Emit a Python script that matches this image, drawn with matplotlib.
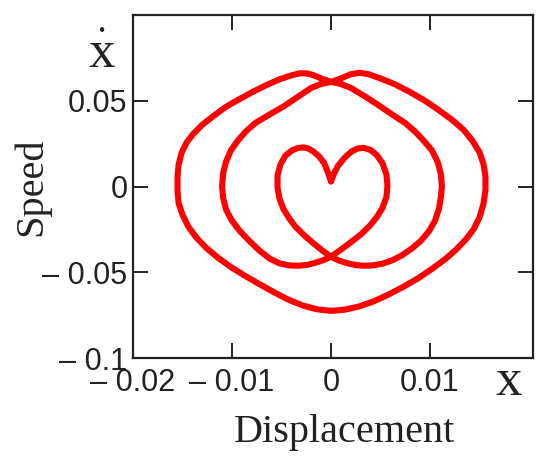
import matplotlib
matplotlib.use("Agg")
import matplotlib.pyplot as plt

# Phase-plane trajectory (displacement, speed)
displacement = [
    # heart, left half (from the notch down to the lower crossing)
    0.0000, -0.0003, -0.0007, -0.0012, -0.0018, -0.0023, -0.0028, -0.0033, -0.0039, -0.0046,
    -0.0051, -0.0054, -0.0054, -0.0052, -0.0048, -0.0042, -0.0036, -0.0027, -0.0018, -0.0009, 0.0000,
    # middle loop, right side going up
    0.0008, 0.0017, 0.0025, 0.0033, 0.0042, 0.0052, 0.0062, 0.0072, 0.0082, 0.0091, 0.0099,
    0.0105, 0.0109, 0.0111, 0.0112, 0.0111, 0.0108, 0.0102, 0.0094, 0.0085, 0.0075, 0.0063,
    0.0047, 0.0033, 0.0020, 0.0010, 0.0000,
    # outer loop, left side going down
    -0.0010, -0.0018, -0.0025, -0.0032, -0.0040, -0.0052, -0.0065, -0.0078, -0.0093, -0.0106,
    -0.0119, -0.0130, -0.0139, -0.0146, -0.0151, -0.0154, -0.0155, -0.0155, -0.0154, -0.0150,
    -0.0144, -0.0136, -0.0126, -0.0114, -0.0101, -0.0087, -0.0073, -0.0058, -0.0043, -0.0028,
    -0.0014, 0.0000,
    # outer loop, right side going up
    0.0014, 0.0028, 0.0043, 0.0058, 0.0073, 0.0088, 0.0102, 0.0115, 0.0126, 0.0136, 0.0144,
    0.0150, 0.0154, 0.0156, 0.0156, 0.0154, 0.0150, 0.0143, 0.0134, 0.0122, 0.0109, 0.0095,
    0.0080, 0.0065, 0.0050, 0.0038, 0.0029, 0.0020, 0.0010, 0.0000,
    # middle loop, left side going down
    -0.0010, -0.0020, -0.0033, -0.0047, -0.0062, -0.0076, -0.0086, -0.0094, -0.0101, -0.0106,
    -0.0109, -0.0110, -0.0109, -0.0106, -0.0100, -0.0092, -0.0082, -0.0072, -0.0062, -0.0052,
    -0.0042, -0.0033, -0.0024, -0.0016, -0.0008, 0.0000,
    # heart, right half (from the lower crossing up to the notch)
    0.0010, 0.0020, 0.0030, 0.0039, 0.0046, 0.0052, 0.0056, 0.0057, 0.0056, 0.0052, 0.0046,
    0.0040, 0.0033, 0.0027, 0.0021, 0.0014, 0.0007, 0.0003, 0.0000,
]
speed = [
    0.0030, 0.0080, 0.0138, 0.0175, 0.0205, 0.0222, 0.0228, 0.0225, 0.0212, 0.0180,
    0.0130, 0.0065, -0.0005, -0.0072, -0.0132, -0.0187, -0.0234, -0.0285, -0.0330, -0.0372, -0.0409,
    -0.0432, -0.0448, -0.0458, -0.0462, -0.0460, -0.0450, -0.0430, -0.0400, -0.0360, -0.0315, -0.0260,
    -0.0200, -0.0130, -0.0060, 0.0000, 0.0070, 0.0140, 0.0210, 0.0265, 0.0320, 0.0370, 0.0415,
    0.0478, 0.0530, 0.0575, 0.0598, 0.0610,
    0.0630, 0.0650, 0.0660, 0.0660, 0.0648, 0.0625, 0.0592, 0.0555, 0.0508, 0.0465,
    0.0410, 0.0360, 0.0308, 0.0255, 0.0195, 0.0125, 0.0055, -0.0025, -0.0095, -0.0165,
    -0.0235, -0.0298, -0.0358, -0.0416, -0.0470, -0.0520, -0.0567, -0.0615, -0.0660, -0.0695,
    -0.0716, -0.0725,
    -0.0718, -0.0700, -0.0670, -0.0630, -0.0585, -0.0535, -0.0480, -0.0425, -0.0370, -0.0310, -0.0250,
    -0.0180, -0.0100, -0.0020, 0.0060, 0.0130, 0.0200, 0.0265, 0.0330, 0.0390, 0.0445, 0.0500,
    0.0550, 0.0595, 0.0630, 0.0655, 0.0663, 0.0655, 0.0630, 0.0610,
    0.0598, 0.0575, 0.0525, 0.0470, 0.0420, 0.0372, 0.0322, 0.0268, 0.0212, 0.0145,
    0.0075, 0.0000, -0.0065, -0.0135, -0.0200, -0.0260, -0.0320, -0.0375, -0.0420, -0.0448,
    -0.0460, -0.0462, -0.0457, -0.0445, -0.0430, -0.0409,
    -0.0368, -0.0325, -0.0280, -0.0230, -0.0180, -0.0125, -0.0060, 0.0005, 0.0070, 0.0135, 0.0185,
    0.0213, 0.0225, 0.0222, 0.0205, 0.0170, 0.0120, 0.0075, 0.0030,
]

x_ticks = [-0.02, -0.01, 0.0, 0.01]
x_tick_labels = ["\u2013 0.02", "\u2013 0.01", "0", "0.01"]
y_ticks = [-0.1, -0.05, 0.0, 0.05]
y_tick_labels = ["\u2013 0.1", "\u2013 0.05", "0", "0.05"]

fig = plt.figure(figsize=(5.5, 4.59), dpi=100)
ax = fig.add_axes([0.2418, 0.22, 0.7273, 0.7473])

ax.plot(displacement, speed, color="#ff0000", lw=4.4, solid_joinstyle="round",
        solid_capstyle="round")

ax.set_xlim(-0.02, 0.0204)
ax.set_ylim(-0.1, 0.1)
ax.set_xticks(x_ticks)
ax.set_xticklabels(x_tick_labels)
ax.set_yticks(y_ticks)
ax.set_yticklabels(y_tick_labels)

for lab in ax.get_xticklabels() + ax.get_yticklabels():
    lab.set_fontfamily(["Liberation Sans", "DejaVu Sans"])
    lab.set_fontsize(22)
    lab.set_color("#222222")

ax.tick_params(direction="in", length=11, width=1.4, color="#222222",
               top=True, right=True)
ax.tick_params(axis="x", pad=7)
ax.tick_params(axis="y", pad=4)
for s in ax.spines.values():
    s.set_linewidth(1.6)
    s.set_color("#222222")

serif = ["Liberation Serif", "DejaVu Serif"]
ax.set_xlabel("Displacement", fontfamily=serif, fontsize=29, color="#222222",
              va="baseline")
ax.xaxis.set_label_coords(0.53, -0.245)
ax.set_ylabel("Speed", fontfamily=serif, fontsize=29, color="#222222", va="center")
ax.yaxis.set_label_coords(-0.2525, 0.5)

ax.text(0.94, -0.108, "x", transform=ax.transAxes, fontfamily=serif, fontsize=38,
        ha="center", va="baseline", color="#222222")
ax.text(-0.0775, 0.848, "x", transform=ax.transAxes, fontfamily=serif, fontsize=38,
        ha="center", va="baseline", color="#222222")
ax.text(-0.0775, 0.953, "\u2022", transform=ax.transAxes, fontfamily=serif, fontsize=13,
        ha="center", va="center", color="#222222")

fig.savefig("out.png", dpi=100)
